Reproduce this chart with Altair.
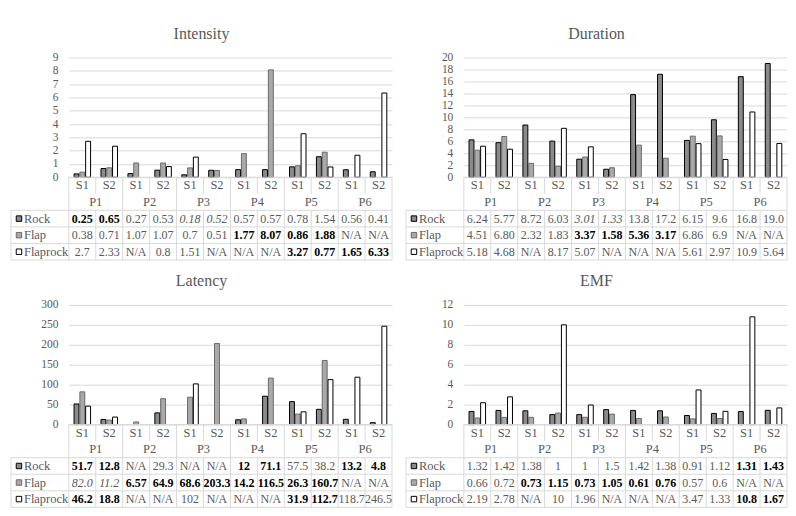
import altair as alt
import pandas as pd

# ---------------- data ----------------
P_LABELS = ["P1", "P2", "P3", "P4", "P5", "P6"]
S_LABELS = ["S1", "S2"]
SERIES = ["Rock", "Flap", "Flaprock"]

INTENSITY_ROCK = ["0.25", "0.65", "0.27", "0.53", "0.18", "0.52", "0.57", "0.57", "0.78", "1.54", "0.56", "0.41"]
INTENSITY_FLAP = ["0.38", "0.71", "1.07", "1.07", "0.7", "0.51", "1.77", "8.07", "0.86", "1.88", "N/A", "N/A"]
INTENSITY_FLAPROCK = ["2.7", "2.33", "N/A", "0.8", "1.51", "N/A", "N/A", "N/A", "3.27", "0.77", "1.65", "6.33"]
INTENSITY_ROCK_STYLE = ["b", "b", "n", "n", "i", "i", "n", "n", "n", "n", "n", "n"]
INTENSITY_FLAP_STYLE = ["n", "n", "n", "n", "n", "n", "b", "b", "b", "b", "n", "n"]
INTENSITY_FLAPROCK_STYLE = ["n", "n", "n", "n", "n", "n", "n", "n", "b", "b", "b", "b"]
INTENSITY_TICKS = [0, 1, 2, 3, 4, 5, 6, 7, 8, 9]

DURATION_ROCK = ["6.24", "5.77", "8.72", "6.03", "3.01", "1.33", "13.8", "17.2", "6.15", "9.6", "16.8", "19.0"]
DURATION_FLAP = ["4.51", "6.80", "2.32", "1.83", "3.37", "1.58", "5.36", "3.17", "6.86", "6.9", "N/A", "N/A"]
DURATION_FLAPROCK = ["5.18", "4.68", "N/A", "8.17", "5.07", "N/A", "N/A", "N/A", "5.61", "2.97", "10.9", "5.64"]
DURATION_ROCK_STYLE = ["n", "n", "n", "n", "i", "i", "n", "n", "n", "n", "n", "n"]
DURATION_FLAP_STYLE = ["n", "n", "n", "n", "b", "b", "b", "b", "n", "n", "n", "n"]
DURATION_FLAPROCK_STYLE = ["n"] * 12
DURATION_TICKS = [0, 2, 4, 6, 8, 10, 12, 14, 16, 18, 20]

LATENCY_ROCK = ["51.7", "12.8", "N/A", "29.3", "N/A", "N/A", "12", "71.1", "57.5", "38.2", "13.2", "4.8"]
LATENCY_FLAP = ["82.0", "11.2", "6.57", "64.9", "68.6", "203.3", "14.2", "116.5", "26.3", "160.7", "N/A", "N/A"]
LATENCY_FLAPROCK = ["46.2", "18.8", "N/A", "N/A", "102", "N/A", "N/A", "N/A", "31.9", "112.7", "118.7", "246.5"]
LATENCY_ROCK_STYLE = ["b", "b", "n", "n", "n", "n", "b", "b", "n", "n", "b", "b"]
LATENCY_FLAP_STYLE = ["i", "i", "b", "b", "b", "b", "b", "b", "b", "b", "n", "n"]
LATENCY_FLAPROCK_STYLE = ["b", "b", "n", "n", "n", "n", "n", "n", "b", "b", "n", "n"]
LATENCY_TICKS = [0, 50, 100, 150, 200, 250, 300]

EMF_ROCK = ["1.32", "1.42", "1.38", "1", "1", "1.5", "1.42", "1.38", "0.91", "1.12", "1.31", "1.43"]
EMF_FLAP = ["0.66", "0.72", "0.73", "1.15", "0.73", "1.05", "0.61", "0.76", "0.57", "0.6", "N/A", "N/A"]
EMF_FLAPROCK = ["2.19", "2.78", "N/A", "10", "1.96", "N/A", "N/A", "N/A", "3.47", "1.33", "10.8", "1.67"]
EMF_ROCK_STYLE = ["n"] * 10 + ["b", "b"]
EMF_FLAP_STYLE = ["n", "n", "b", "b", "b", "b", "b", "b", "n", "n", "n", "n"]
EMF_FLAPROCK_STYLE = ["n"] * 10 + ["b", "b"]
EMF_TICKS = [0, 2, 4, 6, 8, 10, 12]

# ---------------- styling ----------------
SERIF = "Liberation Serif"
GRAY_TEXT = "#595959"
GRID = "#d9d9d9"
FILLS = ["#8a8a8a", "#a9a9a9", "#ffffff"]
STROKES = ["#000000", "#6a6a6a", "#000000"]

W = 324
BAR_H = 120
TAB_H = 83
LEFT_EDGE = -58

CATS = [p + " " + s for p in P_LABELS for s in S_LABELS]
x_scale = alt.Scale(domain=CATS, paddingInner=0, paddingOuter=0)
ty_scale = alt.Scale(domain=[0, 5], range=[BAR_H, BAR_H + TAB_H], nice=False, zero=False)
fill_scale = alt.Scale(domain=SERIES, range=FILLS)
stroke_scale = alt.Scale(domain=SERIES, range=STROKES)


def make_panel(title, series_labels, series_styles, ticks):
    bar_rows, cell_rows = [], []
    for k, name in enumerate(SERIES):
        for i, cat in enumerate(CATS):
            lab = series_labels[k][i]
            cell_rows.append({"cat": cat, "series": name, "label": lab,
                              "style": series_styles[k][i], "ty": 2.5 + k})
            if lab != "N/A":
                bar_rows.append({"cat": cat, "series": name, "value": float(lab)})
    bars_df = pd.DataFrame(bar_rows)
    cells_df = pd.DataFrame(cell_rows)
    s_df = pd.DataFrame({"cat": CATS, "text": [c.split(" ")[1] for c in CATS], "ty": 0.5})
    p_df = pd.DataFrame({"cat": [p + " S2" for p in P_LABELS], "text": P_LABELS, "ty": 1.5})
    vrows = []
    for i, cat in enumerate(CATS):
        if i % 2 == 0:
            vrows.append({"cat": cat, "y0": 0, "y1": 5})
        else:
            vrows.append({"cat": cat, "y0": 0, "y1": 1})
            vrows.append({"cat": cat, "y0": 2, "y1": 5})
    v_df = pd.DataFrame(vrows)
    h_df = pd.DataFrame({"ty": [2, 3, 4, 5]})
    top_df = pd.DataFrame({"ty": [0]})
    edge_df = pd.DataFrame({"y0": [0], "y1": [5]})
    left_df = pd.DataFrame({"y0": [2], "y1": [5]})
    leg_df = pd.DataFrame({"series": SERIES, "ty": [2.5, 3.5, 4.5]})

    X = alt.X("cat:N", scale=x_scale, axis=None)
    X0 = alt.X("cat:N", scale=x_scale, axis=None, bandPosition=0)
    TY = alt.Y("ty:Q", scale=ty_scale, axis=None)
    Y0 = alt.Y("y0:Q", scale=ty_scale, axis=None)

    bars = alt.Chart(bars_df).mark_bar(strokeWidth=1).encode(
        x=X,
        xOffset=alt.XOffset("series:N", scale=alt.Scale(domain=SERIES, paddingInner=0.15, paddingOuter=0.9)),
        y=alt.Y("value:Q",
                scale=alt.Scale(domain=[ticks[0], ticks[-1]], range=[BAR_H, 0], nice=False),
                axis=alt.Axis(values=ticks, grid=True, gridColor=GRID, domain=False, ticks=False,
                              labelOverlap=False, labelPadding=11, labelFont=SERIF, labelFontSize=11.5,
                              labelColor=GRAY_TEXT, title=None)),
        fill=alt.Fill("series:N", scale=fill_scale, legend=None),
        stroke=alt.Stroke("series:N", scale=stroke_scale, legend=None),
    )

    vrules = alt.Chart(v_df).mark_rule(color=GRID, strokeWidth=1).encode(
        x=X0, y=Y0, y2="y1:Q")
    edge = alt.Chart(edge_df).mark_rule(color=GRID, strokeWidth=1).encode(
        x=alt.value(W), y=Y0, y2="y1:Q")
    leftb = alt.Chart(left_df).mark_rule(color=GRID, strokeWidth=1).encode(
        x=alt.value(LEFT_EDGE), y=Y0, y2="y1:Q")
    hrules = alt.Chart(h_df).mark_rule(color=GRID, strokeWidth=1).encode(
        y=TY, x=alt.value(LEFT_EDGE), x2=alt.value(W))
    toprule = alt.Chart(top_df).mark_rule(color=GRID, strokeWidth=1).encode(
        y=TY, x=alt.value(0), x2=alt.value(W))

    s_text = alt.Chart(s_df).mark_text(font=SERIF, fontSize=12.5, color=GRAY_TEXT, baseline="middle").encode(
        x=X, y=TY, text="text:N")
    p_text = alt.Chart(p_df).mark_text(font=SERIF, fontSize=12.5, color=GRAY_TEXT, baseline="middle").encode(
        x=X0, y=TY, text="text:N")

    cells_n = alt.Chart(cells_df).transform_filter("datum.style == 'n'").mark_text(
        font=SERIF, fontSize=12, color=GRAY_TEXT, baseline="middle").encode(x=X, y=TY, text="label:N")
    cells_b = alt.Chart(cells_df).transform_filter("datum.style == 'b'").mark_text(
        font=SERIF, fontSize=12, color="#000000", fontWeight="bold", baseline="middle").encode(
        x=X, y=TY, text="label:N")
    cells_i = alt.Chart(cells_df).transform_filter("datum.style == 'i'").mark_text(
        font=SERIF, fontSize=12, color=GRAY_TEXT, fontStyle="italic", baseline="middle").encode(
        x=X, y=TY, text="label:N")

    leg_sym = alt.Chart(leg_df).mark_square(size=30, strokeWidth=1, opacity=1).encode(
        x=alt.value(-50), y=TY,
        fill=alt.Fill("series:N", scale=fill_scale, legend=None),
        stroke=alt.Stroke("series:N", scale=stroke_scale, legend=None))
    leg_txt = alt.Chart(leg_df).mark_text(font=SERIF, fontSize=12.5, color=GRAY_TEXT, align="left",
                                          baseline="middle").encode(
        x=alt.value(-45), y=TY, text="series:N")

    return alt.layer(
        bars, vrules, edge, leftb, hrules, toprule, s_text, p_text,
        cells_n, cells_b, cells_i, leg_sym, leg_txt
    ).resolve_scale(y="independent").properties(
        width=W, height=BAR_H + TAB_H,
        title=alt.TitleParams(title, font=SERIF, fontSize=16, fontWeight="normal",
                              color=GRAY_TEXT, frame="bounds", anchor="middle", offset=10),
    )


p_int = make_panel("Intensity", [INTENSITY_ROCK, INTENSITY_FLAP, INTENSITY_FLAPROCK],
                   [INTENSITY_ROCK_STYLE, INTENSITY_FLAP_STYLE, INTENSITY_FLAPROCK_STYLE], INTENSITY_TICKS)
p_dur = make_panel("Duration", [DURATION_ROCK, DURATION_FLAP, DURATION_FLAPROCK],
                   [DURATION_ROCK_STYLE, DURATION_FLAP_STYLE, DURATION_FLAPROCK_STYLE], DURATION_TICKS)
p_lat = make_panel("Latency", [LATENCY_ROCK, LATENCY_FLAP, LATENCY_FLAPROCK],
                   [LATENCY_ROCK_STYLE, LATENCY_FLAP_STYLE, LATENCY_FLAPROCK_STYLE], LATENCY_TICKS)
p_emf = make_panel("EMF", [EMF_ROCK, EMF_FLAP, EMF_FLAPROCK],
                   [EMF_ROCK_STYLE, EMF_FLAP_STYLE, EMF_FLAPROCK_STYLE], EMF_TICKS)

chart = alt.vconcat(
    alt.hconcat(p_int, p_dur, spacing=12),
    alt.hconcat(p_lat, p_emf, spacing=12),
    spacing=12,
).properties(
    padding={"left": 2, "top": 17, "right": 0, "bottom": 0}
).configure_view(strokeWidth=0)

chart.save("out.html", embed_options={"renderer": "svg", "actions": False})
